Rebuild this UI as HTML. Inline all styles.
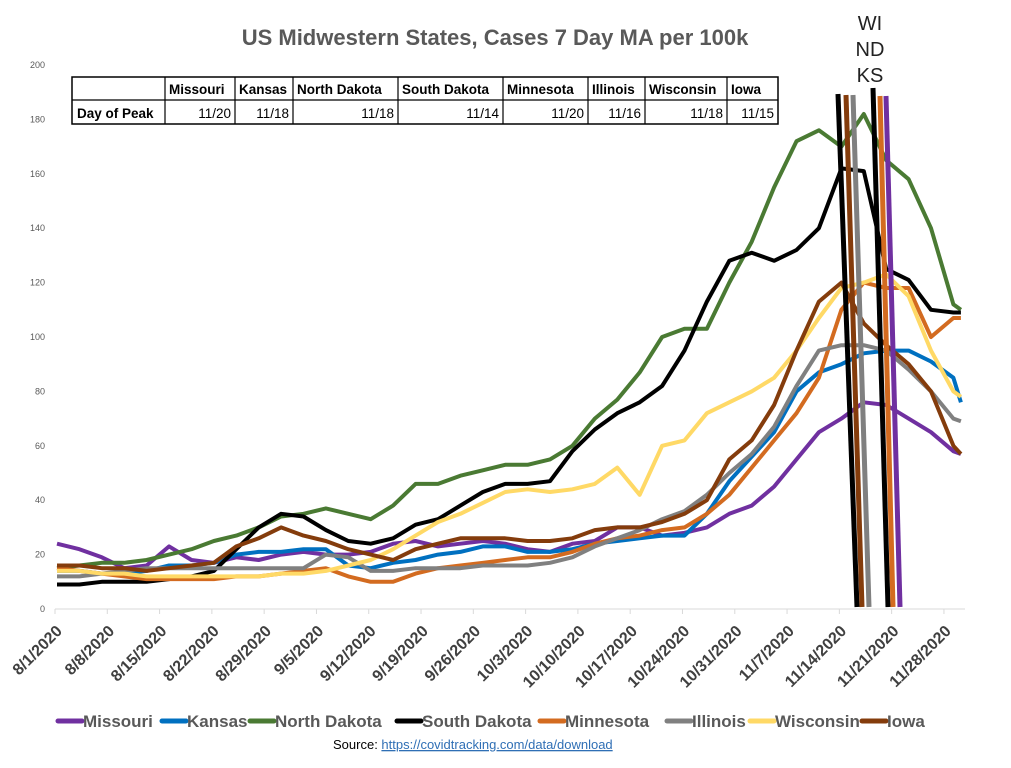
<!DOCTYPE html>
<html><head><meta charset="utf-8"><style>
body{margin:0;background:#fff;width:1011px;height:763px;overflow:hidden;font-family:"Liberation Sans",sans-serif}
svg text{font-family:"Liberation Sans",sans-serif}
</style></head><body>
<svg id="chart" width="1011" height="763" viewBox="0 0 1011 763" xmlns="http://www.w3.org/2000/svg">
<text x="495" y="45" text-anchor="middle" font-size="22" font-weight="bold" fill="#595959">US Midwestern States, Cases 7 Day MA per 100k</text>
<g id="yaxis"></g>
<g id="xaxis"></g>
<g id="series"></g>
<g id="peaks"></g>
<g font-size="20" fill="#222" text-anchor="middle">
<text x="870" y="30">WI</text><text x="870" y="56">ND</text><text x="870" y="82">KS</text></g>
<g font-size="13.5" font-weight="bold" fill="#000">
<rect x="72" y="77" width="706" height="47" fill="#fff" stroke="#000" stroke-width="1.5"/>
<line x1="72" y1="100" x2="778" y2="100" stroke="#000" stroke-width="1.2"/>
<g id="tcols"></g>
<text x="77" y="118">Day of Peak</text>
</g>
<g id="legend"></g>
<text x="333" y="749" font-size="13" fill="#000">Source: <tspan fill="#2f6fb5" text-decoration="underline">https://covidtracking.com/data/download</tspan></text>
</svg>
<script>
const days=[0,3,6,9,12,15,18,21,24,27,30,33,36,39,42,45,48,51,54,57,60,63,66,69,72,75,78,81,84,87,90,93,96,99,102,105,108,111,114,117,120,121];
const missouri=[24,22,19,15,16,23,18,17,19,18,20,21,20,20,21,24,25,23,24,25,24,22,21,24,25,30,30,27,28,30,35,38,45,55,65,70,76,75,70,65,58,57];
const kansas=[14,14,13,13,14,16,16,17,20,21,21,22,22,16,15,17,18,20,21,23,23,21,21,22,24,25,26,27,27,35,47,56,65,80,87,90,94,95,95,91,85,76];
const northDakota=[15,16,17,17,18,20,22,25,27,30,34,35,37,35,33,38,46,46,49,51,53,53,55,60,70,77,87,100,103,103,120,135,155,172,176,170,182,165,158,140,112,110];
const southDakota=[9,9,10,10,10,11,12,14,22,30,35,34,29,25,24,26,31,33,38,43,46,46,47,58,66,72,76,82,95,113,128,131,128,132,140,162,161,125,121,110,109,109];
const minnesota=[15,14,13,12,11,11,11,11,12,12,13,14,15,12,10,10,13,15,16,17,18,19,19,21,24,26,27,29,30,35,42,52,62,72,85,110,120,118,118,100,107,107];
const illinois=[12,12,13,14,15,15,15,15,15,15,15,15,20,19,14,14,15,15,15,16,16,16,17,19,23,26,29,33,36,42,50,57,67,82,95,97,97,95,88,80,70,69];
const wisconsin=[14,14,13,13,12,12,12,12,12,12,13,13,14,16,18,22,27,32,35,39,43,44,43,44,46,52,42,60,62,72,76,80,85,95,107,118,120,123,115,95,80,78];
const iowa=[16,16,15,15,14,15,16,17,23,26,30,27,25,22,20,18,22,24,26,26,26,25,25,26,29,30,30,32,35,40,55,62,75,95,113,120,105,97,90,80,60,57];
const seriesNames=["Missouri","Kansas","North Dakota","South Dakota","Minnesota","Illinois","Wisconsin","Iowa"];
const seriesColors=["#7030a0","#0070c0","#4a7a33","#000000","#d36b20","#808080","#ffd966","#843c0c"];
const seriesData=[missouri,kansas,northDakota,southDakota,minnesota,illinois,wisconsin,iowa];
const yTicks=[0,20,40,60,80,100,120,140,160,180,200];
const xTickLabels=["8/1/2020","8/8/2020","8/15/2020","8/22/2020","8/29/2020","9/5/2020","9/12/2020","9/19/2020","9/26/2020","10/3/2020","10/10/2020","10/17/2020","10/24/2020","10/31/2020","11/7/2020","11/14/2020","11/21/2020","11/28/2020"];
const peakStates=["Missouri","Kansas","North Dakota","South Dakota","Minnesota","Illinois","Wisconsin","Iowa"];
const peakDays=["11/20","11/18","11/18","11/14","11/20","11/16","11/18","11/15"];
const NS="http://www.w3.org/2000/svg";
const X=d=>57+d*7.47;
const Y=v=>609-v*2.72;
function mk(tag,attrs,parent){const e=document.createElementNS(NS,tag);for(const k in attrs)e.setAttribute(k,attrs[k]);parent.appendChild(e);return e;}
const yax=document.getElementById('yaxis');
yTicks.forEach(t=>{const e=mk('text',{x:45,y:Y(t)+3,'text-anchor':'end','font-size':9,fill:'#595959'},yax);e.textContent=t;

});
const xax=document.getElementById('xaxis');
mk('line',{x1:55,y1:609,x2:965,y2:609,stroke:'#d9d9d9','stroke-width':1},xax);
xTickLabels.forEach((l,i)=>{const tx=X(i*7)-2;
mk('line',{x1:tx,y1:609,x2:tx,y2:614,stroke:'#d9d9d9'},xax);
const e=mk('text',{x:tx+8,y:632,'text-anchor':'end','font-size':16,'font-weight':'bold',fill:'#404040',transform:`rotate(-45 ${tx+8} 632)`},xax);e.textContent=l;

});
const sg=document.getElementById('series');
seriesData.forEach((arr,si)=>{const pts=arr.map((v,i)=>X(days[i]).toFixed(1)+','+Y(v).toFixed(1)).join(' ');
const p=mk('polyline',{points:pts,fill:'none',stroke:seriesColors[si],'stroke-width':4,'stroke-linejoin':'round'},sg);

});
const pk=document.getElementById('peaks');
[[838,94,857,607,'#000'],[846,95,862,607,'#843c0c'],[853,95,869,607,'#808080'],[873,88,888,607,'#000'],[880,96,893,607,'#d36b20'],[886,96,900,607,'#7030a0']].forEach(a=>{
const l=mk('line',{x1:a[0],y1:a[1],x2:a[2],y2:a[3],stroke:a[4],'stroke-width':5},pk);

});
const tc=document.getElementById('tcols');
const colX=[165,235,293,398,503,588,645,727,778];
peakStates.forEach((s,i)=>{
mk('line',{x1:colX[i],y1:77,x2:colX[i],y2:124,stroke:'#000','stroke-width':1.2},tc);
const h=mk('text',{x:colX[i]+4,y:94},tc);h.textContent=s;


const v=mk('text',{x:colX[i+1]-4,y:118,'text-anchor':'end','font-weight':'normal'},tc);v.textContent=peakDays[i];

});
const lg=document.getElementById('legend');
const legX=[58,162,250,397,540,667,750,862];
seriesNames.forEach((n,i)=>{
mk('line',{x1:legX[i],y1:721,x2:legX[i]+24,y2:721,stroke:seriesColors[i],'stroke-width':5,'stroke-linecap':'round'},lg);
const t=mk('text',{x:legX[i]+25,y:727,'font-size':17,'font-weight':'bold',fill:'#595959'},lg);t.textContent=n;

});
</script>
</body></html>
